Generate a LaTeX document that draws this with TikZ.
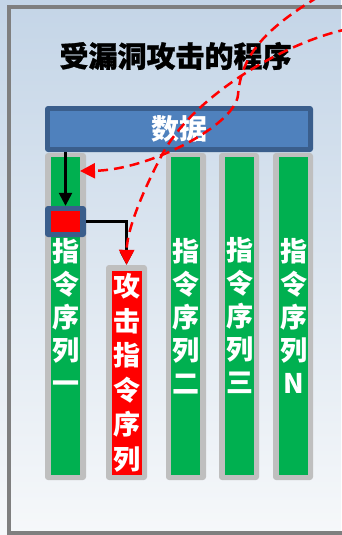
\documentclass[tikz,border=0pt]{standalone}
\usepackage{fontspec}
\newfontfamily\cjk{Noto Sans CJK SC}
\newfontfamily\cjkheavy{Noto Sans CJK SC}[BoldFeatures={FakeBold=1}]
\usetikzlibrary{arrows.meta}
\definecolor{grn}{HTML}{00B050}
\definecolor{rd}{HTML}{FF0000}
\definecolor{colgray}{HTML}{BFBFBF}
\definecolor{dblue}{HTML}{3A5E8C}
\definecolor{mblue}{HTML}{4F81BD}
\definecolor{bgtop}{HTML}{C4D5E7}
\definecolor{bgbot}{HTML}{F6F8FA}
\definecolor{framegray}{HTML}{7F7F7F}
\tikzset{
  outerbox/.style={fill=colgray, rounded corners=3pt, inner sep=0pt, draw=none},
  colbox/.style={fill=grn, inner sep=0pt, minimum width=29pt, text=white, align=center,
    font=\cjk\bfseries\fontsize{27}{33}\selectfont},
  blk/.style={black, line width=2.5pt, -{Triangle[length=13pt,width=13pt]}},
  reddash/.style={rd, line width=2.5pt, dash pattern=on 10pt off 6pt,
    -{Triangle[length=15pt,width=15pt]}}
}
\begin{document}
\begin{tikzpicture}[x=1pt,y=-1pt]
\useasboundingbox (0,0) rectangle (341,535);
\shade[top color=bgtop,bottom color=bgbot] (0,0) rectangle (341,535);
\draw[framegray, line width=4pt] (9,7) rectangle (380,533);
% title
\node[font=\cjkheavy\bfseries\fontsize{29}{32}\selectfont, inner sep=0pt] (title) at (175.5,56) {受漏洞攻击的程序};
% data bar
\node[fill=dblue, rounded corners=3pt, minimum width=268pt, minimum height=46pt, inner sep=0pt] (dataout) at (179,129) {};
\node[fill=mblue, minimum width=258pt, minimum height=36pt, inner sep=0pt, text=white,
  font=\cjk\bfseries\fontsize{28}{30}\selectfont] (data) at (179,129) {数据};
% columns
\node[outerbox, minimum width=41pt, minimum height=327pt] (c1o) at (65.5,316.5) {};
\node[colbox, minimum height=318pt] (c1) at (65.5,316) {指\\令\\序\\列\\一};
\node[outerbox, minimum width=41pt, minimum height=215pt] (c2o) at (126.5,372.5) {};
\node[colbox, fill=rd, minimum width=30pt, minimum height=204pt,
  font=\cjk\bfseries\fontsize{27}{34.5}\selectfont] (c2) at (127,373) {攻\\击\\指\\令\\序\\列};
\node[outerbox, minimum width=40pt, minimum height=327pt] (c3o) at (186,316.5) {};
\node[colbox, minimum height=318pt] (c3) at (185.5,316) {指\\令\\序\\列\\二};
\node[outerbox, minimum width=40pt, minimum height=327pt] (c4o) at (239,316.5) {};
\node[colbox, minimum height=318pt] (c4) at (239.5,316) {指\\令\\序\\列\\三};
\node[outerbox, minimum width=40pt, minimum height=327pt] (c5o) at (293,316.5) {};
\node[colbox, minimum height=318pt] (c5) at (293.5,316) {指\\令\\序\\列\\N};
% small box
\node[fill=dblue, rounded corners=3pt, minimum width=41pt, minimum height=31pt, inner sep=0pt] (sbo) at (65.5,221.5) {};
\node[fill=rd, minimum width=29pt, minimum height=21pt, inner sep=0pt] (sb) at (65.5,221.5) {};
% black connectors
\draw[blk] (sbo.north |- dataout.south) -- (sbo.north);
\draw[blk] (sbo.east) -| (c2o.north);
% red dashed curves
\coordinate (a0) at (318,-3);
\coordinate (a1) at (238,95);
\coordinate (a2) at (80,171);
\draw[reddash] (a0) .. controls (263,30) and (241,57) .. (a1)
  .. controls (235,125) and (150,170) .. (a2);
\coordinate (b0) at (348,29);
\coordinate (b1) at (163,153);
\draw[reddash] (b0) .. controls (285,42) and (195,95) .. (b1)
  .. controls (150,177) and (127,225) .. (c2o.north);
\end{tikzpicture}
\end{document}
